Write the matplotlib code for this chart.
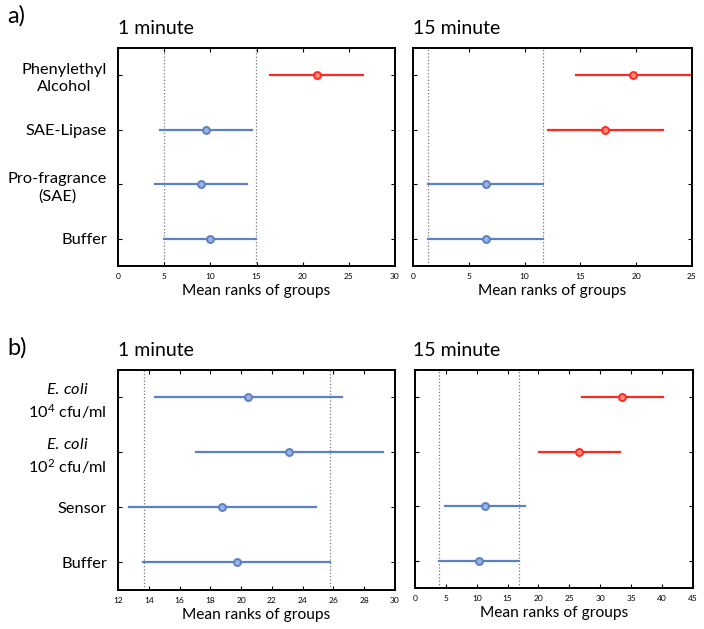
import matplotlib
matplotlib.use("Agg")
import matplotlib.pyplot as plt

plt.rcParams['font.family'] = ['Lato', 'DejaVu Sans']
plt.rcParams['mathtext.fontset'] = 'custom'
plt.rcParams['mathtext.rm'] = 'Lato'
plt.rcParams['mathtext.it'] = 'Lato:italic'

BLUE = '#5b80c6'
BLUE_FILL = '#9bb3e0'
RED = '#ff2a1f'
RED_FILL = '#ff8a80'

# panel a) labels, bottom to top
labels_a = ['Buffer', 'Pro-fragrance\n(SAE)', 'SAE-Lipase', 'Phenylethyl\nAlcohol']
a1_mean = [10.0, 9.0, 9.55, 21.5]
a1_half = [4.97, 5.0, 5.0, 5.0]
a1_sig = [False, False, False, True]
a1_ref = [4.97, 14.97]
a15_mean = [6.5, 6.5, 17.25, 19.75]
a15_half = [5.15, 5.15, 5.15, 5.15]
a15_sig = [False, False, True, True]
a15_ref = [1.35, 11.65]

# panel b)
labels_b = ['Buffer', 'Sensor', '$\\mathit{E.\\,coli}$\n10$^2$ cfu/ml', '$\\mathit{E.\\,coli}$\n10$^4$ cfu/ml']
b1_mean = [19.72, 18.79, 23.13, 20.46]
b1_half = [6.08, 6.08, 6.08, 6.08]
b1_sig = [False, False, False, False]
b1_ref = [13.67, 25.8]
b15_mean = [10.37, 11.35, 26.6, 33.6]
b15_half = [6.55, 6.55, 6.55, 6.55]
b15_sig = [False, False, True, True]
b15_ref = [3.84, 16.9]


def panel(ax, means, halfs, sig, ref, xlim, xticks, labels=None):
    for r in ref:
        ax.axvline(r, color='#777777', ls=':', lw=0.9, zorder=1)
    for i, (m, h, s) in enumerate(zip(means, halfs, sig)):
        c = RED if s else BLUE
        fc = RED_FILL if s else BLUE_FILL
        ax.plot([m - h, m + h], [i + 1, i + 1], color=c, lw=1.6, zorder=2)
        ax.plot(m, i + 1, 'o', ms=5, mfc=fc, mec=c, mew=1.4, zorder=3)
    ax.set_xlim(*xlim)
    ax.set_ylim(0.5, len(means) + 0.5)
    ax.set_xticks(xticks)
    ax.set_yticks(range(1, len(means) + 1))
    if labels:
        ax.set_yticklabels(labels, linespacing=1.3, multialignment='center')
    else:
        ax.set_yticklabels([])
    ax.tick_params(direction='in', top=True, right=True, length=3, width=0.8,
                   labelsize=6, pad=5)
    ax.tick_params(axis='y', labelsize=11.8, pad=8)
    for sp in ax.spines.values():
        sp.set_linewidth(1.4)
    ax.set_xlabel('Mean ranks of groups', fontsize=11.2, labelpad=3)


fig = plt.figure(figsize=(7.04, 6.29), dpi=100)
ax1 = fig.add_axes([0.1676, 0.577, 0.3935, 0.3466])
ax2 = fig.add_axes([0.5866, 0.577, 0.3963, 0.3466])
ax3 = fig.add_axes([0.1676, 0.062, 0.3935, 0.35])
ax4 = fig.add_axes([0.5895, 0.065, 0.3945, 0.347])

panel(ax1, a1_mean, a1_half, a1_sig, a1_ref, (0, 30), range(0, 31, 5), labels_a)
panel(ax2, a15_mean, a15_half, a15_sig, a15_ref, (0, 25), range(0, 26, 5))
panel(ax3, b1_mean, b1_half, b1_sig, b1_ref, (12, 30), range(12, 31, 2), labels_b)
panel(ax4, b15_mean, b15_half, b15_sig, b15_ref, (0, 45), range(0, 46, 5))

fig.text(0.01, 0.975, 'a)', fontsize=17, va='center')
fig.text(0.01, 0.447, 'b)', fontsize=17, va='center')
fig.text(0.1676, 0.955, '1 minute', fontsize=14, va='center')
fig.text(0.5866, 0.955, '15 minute', fontsize=14, va='center')
fig.text(0.1676, 0.443, '1 minute', fontsize=14, va='center')
fig.text(0.5866, 0.443, '15 minute', fontsize=14, va='center')

fig.savefig('out.png', dpi=100)
